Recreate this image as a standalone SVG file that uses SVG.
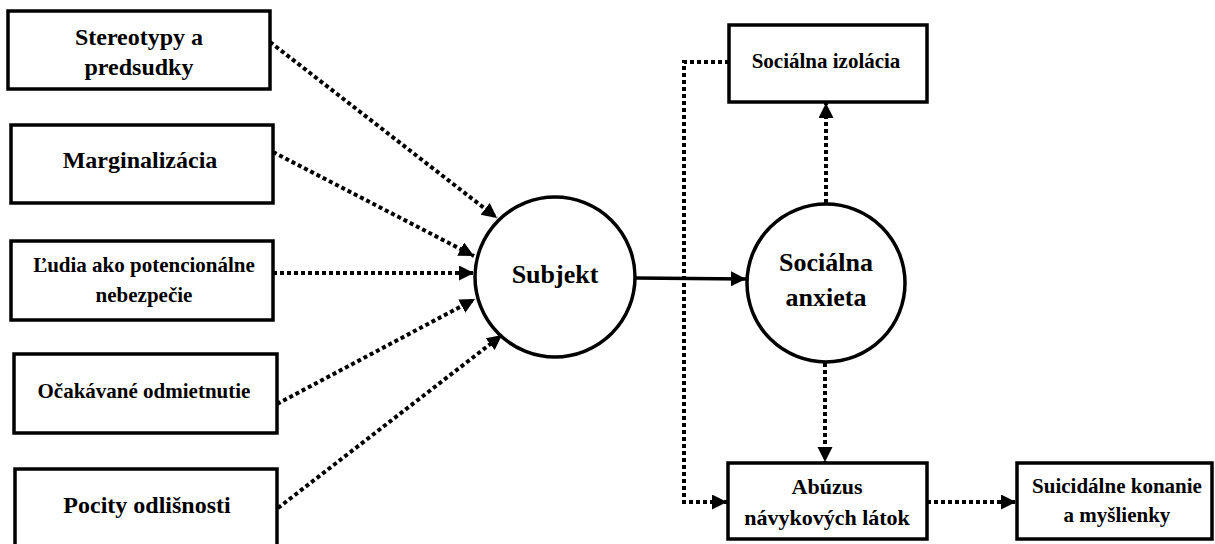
<svg xmlns="http://www.w3.org/2000/svg" width="1215" height="544" viewBox="0 0 1215 544">
<defs>
<marker id="ah" markerUnits="userSpaceOnUse" markerWidth="16" markerHeight="16" refX="15" refY="7.5" orient="auto">
<path d="M0,0 L15,7.5 L0,15 z" fill="#000"/>
</marker>
<style>
.box{fill:#fff;stroke:#000;stroke-width:3.5}
.circ{fill:#fff;stroke:#000;stroke-width:3.5}
.t{font-weight:bold;fill:#000;text-anchor:middle}
.dot{fill:none;stroke:#000;stroke-width:4;stroke-dasharray:4 3}
.sol{fill:none;stroke:#000;stroke-width:3.5}
</style>
</defs>
<rect width="1215" height="544" fill="#fff"/>
<g id="connectors">
<line class="dot" x1="270" y1="42" x2="497" y2="218" marker-end="url(#ah)"/>
<line class="dot" x1="273" y1="152" x2="474" y2="256" marker-end="url(#ah)"/>
<line class="dot" x1="273" y1="273" x2="474" y2="273" marker-end="url(#ah)"/>
<line class="dot" x1="277" y1="404" x2="475" y2="299" marker-end="url(#ah)"/>
<line class="dot" x1="278" y1="508" x2="502" y2="335" marker-end="url(#ah)"/>
<line class="sol" x1="635" y1="278" x2="746" y2="279" marker-end="url(#ah)"/>
<line class="dot" x1="826" y1="203" x2="826" y2="103" marker-end="url(#ah)"/>
<line class="dot" x1="825" y1="363" x2="825" y2="462" marker-end="url(#ah)"/>
<polyline class="dot" points="729,62 684,62 684,502 727,502" marker-end="url(#ah)"/>
<line class="dot" x1="927" y1="502" x2="1016" y2="502" marker-end="url(#ah)"/>
</g>
<g font-family="Liberation Serif, Tinos, Times New Roman, DejaVu Serif, serif">
<g id="n1"><rect class="box" x="8" y="11" width="262" height="78"/><text class="t" font-size="24" x="139" y="45">Stereotypy a</text><text class="t" font-size="24" x="139" y="75">predsudky</text></g>
<g id="n2"><rect class="box" x="11" y="125" width="262" height="78"/><text class="t" font-size="24" x="140" y="168">Marginalizácia</text></g>
<g id="n3"><rect class="box" x="11" y="241" width="262" height="79"/><text class="t" font-size="21" x="144" y="272">Ľudia ako potencionálne</text><text class="t" font-size="21" x="144" y="302">nebezpečie</text></g>
<g id="n4"><rect class="box" x="14" y="354" width="263" height="79"/><text class="t" font-size="21" x="144" y="398">Očakávané odmietnutie</text></g>
<g id="n5"><rect class="box" x="15" y="469" width="262" height="80"/><text class="t" font-size="24" x="147" y="513">Pocity odlišnosti</text></g>
<g id="subjekt"><circle class="circ" cx="555" cy="277" r="80"/><text class="t" font-size="26" x="555" y="283">Subjekt</text></g>
<g id="anxieta"><circle class="circ" cx="826" cy="283" r="79"/><text class="t" font-size="26" x="826" y="271">Sociálna</text><text class="t" font-size="26" x="826" y="306">anxieta</text></g>
<g id="izolacia"><rect class="box" x="729" y="25" width="198" height="77"/><text class="t" font-size="21" x="826" y="68">Sociálna izolácia</text></g>
<g id="abuzus"><rect class="box" x="728" y="463" width="199" height="76"/><text class="t" font-size="22" x="827" y="494">Abúzus</text><text class="t" font-size="22" x="827" y="525">návykových látok</text></g>
<g id="suicid"><rect class="box" x="1017" y="463" width="195" height="76"/><text class="t" font-size="21" x="1117" y="493">Suicidálne konanie</text><text class="t" font-size="21" x="1117" y="522">a myšlienky</text></g>
</g>
</svg>
